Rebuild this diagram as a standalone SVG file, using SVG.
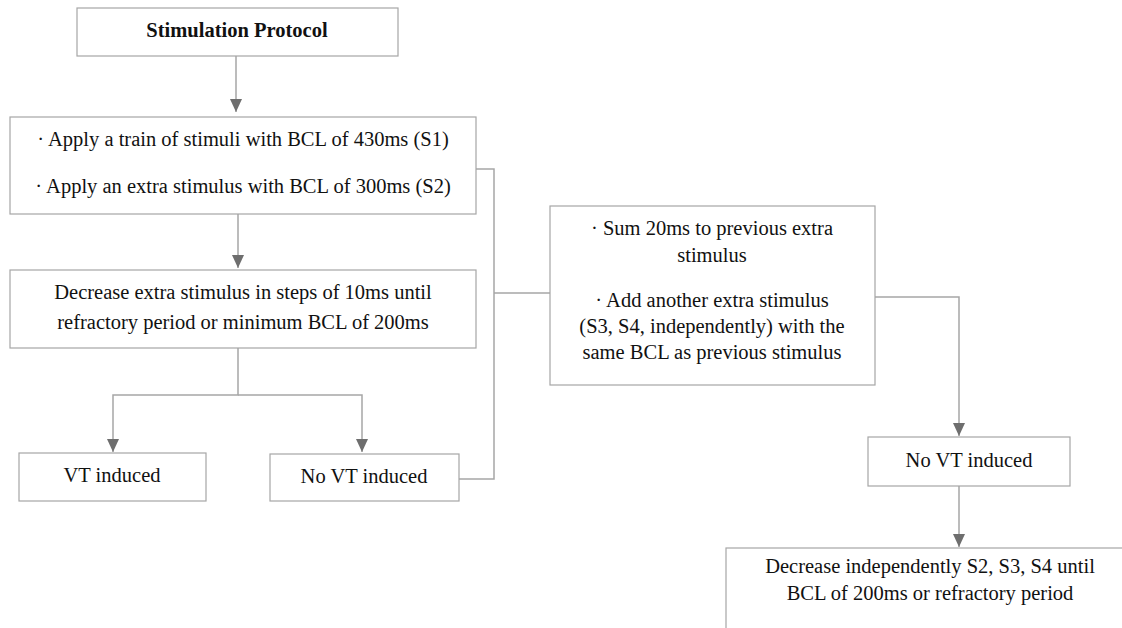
<svg xmlns="http://www.w3.org/2000/svg" width="1122" height="628" viewBox="0 0 1122 628">
<defs>
<marker id="ah" markerWidth="14" markerHeight="12" refX="13" refY="6" orient="auto" markerUnits="userSpaceOnUse">
<path d="M0,0 L13,6 L0,12 Z" fill="#6e6e6e"/>
</marker>
<style>
.box{fill:#fff;stroke:#a6a6a6;stroke-width:1.2}
.t{font-family:'Liberation Serif','DejaVu Serif','Times New Roman',serif;font-size:20.5px;fill:#111;text-anchor:middle}
.b{font-weight:bold;font-size:20.5px}
.c{fill:none;stroke:#a6a6a6;stroke-width:1.5}
</style>
</defs>
<rect width="1122" height="628" fill="#fff"/>
<g id="connectors">
<path class="c" d="M236,56 V112" marker-end="url(#ah)"/>
<path class="c" d="M238,214 V268" marker-end="url(#ah)"/>
<path class="c" d="M238,348 V395 H113 V452" marker-end="url(#ah)"/>
<path class="c" d="M238,395 H362 V452" marker-end="url(#ah)"/>
<path class="c" d="M476,169 H494 V479 H459"/>
<path class="c" d="M494,293 H550"/>
<path class="c" d="M875,297 H959 V436" marker-end="url(#ah)"/>
<path class="c" d="M959,486 V547" marker-end="url(#ah)"/>
</g>
<g id="n1"><rect class="box" x="77" y="8" width="321" height="48"/><text class="t b" x="237" y="37">Stimulation Protocol</text></g>
<g id="n2"><rect class="box" x="10" y="117" width="466" height="97"/>
<text class="t" x="243" y="146">· Apply a train of stimuli with BCL of 430ms (S1)</text>
<text class="t" x="243" y="193">· Apply an extra stimulus with BCL of 300ms (S2)</text></g>
<g id="n3"><rect class="box" x="10" y="270" width="466" height="78"/>
<text class="t" x="243" y="299">Decrease extra stimulus in steps of 10ms until</text>
<text class="t" x="243" y="329">refractory period or minimum BCL of 200ms</text></g>
<g id="n4"><rect class="box" x="19" y="453" width="187" height="48"/><text class="t" x="112" y="482">VT induced</text></g>
<g id="n5"><rect class="box" x="270" y="454" width="189" height="47"/><text class="t" x="364" y="483">No VT induced</text></g>
<g id="n6"><rect class="box" x="550" y="206" width="325" height="179"/>
<text class="t" x="712" y="235">· Sum 20ms to previous extra</text>
<text class="t" x="712" y="262">stimulus</text>
<text class="t" x="712" y="307">· Add another extra stimulus</text>
<text class="t" x="712" y="333">(S3, S4, independently) with the</text>
<text class="t" x="712" y="359">same BCL as previous stimulus</text></g>
<g id="n7"><rect class="box" x="868" y="437" width="202" height="49"/><text class="t" x="969" y="467">No VT induced</text></g>
<g id="n8"><rect class="box" x="726" y="548" width="420" height="100"/>
<text class="t" x="930" y="573">Decrease independently S2, S3, S4 until</text>
<text class="t" x="930" y="600">BCL of 200ms or refractory period</text></g>
</svg>
